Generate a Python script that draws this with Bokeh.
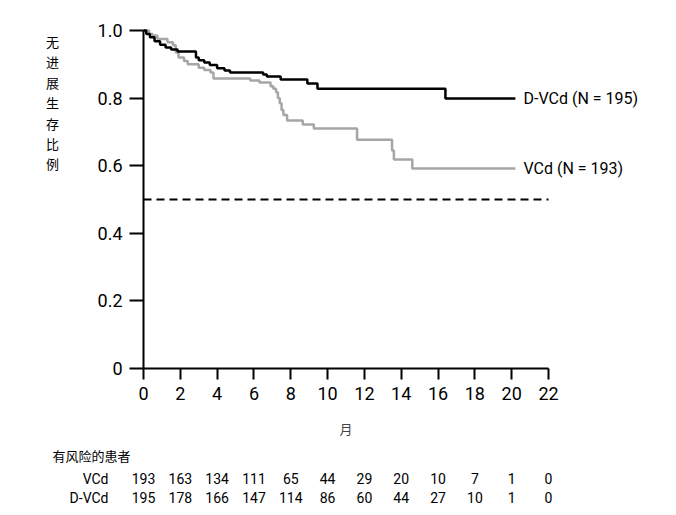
from bokeh.plotting import figure
from bokeh.models import Range1d, FixedTicker, PrintfTickFormatter
from bokeh.core.properties import value
from bokeh.embed import file_html
from bokeh.resources import INLINE

# ---- data ----
months = [0, 2, 4, 6, 8, 10, 12, 14, 16, 18, 20, 22]
vcd_risk = [193, 163, 134, 111, 65, 44, 29, 20, 10, 7, 1, 0]
dvcd_risk = [195, 178, 166, 147, 114, 86, 60, 44, 27, 10, 1, 0]
y_ticks = [0, 0.2, 0.4, 0.6, 0.8, 1.0]

dvcd_t = [0, 0.15, 0.35, 0.6, 0.9, 1.2, 1.5, 1.85, 2.85, 3.0, 3.3, 3.6, 4.0, 4.4, 4.7,
          6.5, 6.7, 7.45, 8.9, 9.45, 16.4, 20.2]
dvcd_s = [1.0, 0.99, 0.98, 0.968, 0.958, 0.95, 0.944, 0.938, 0.92, 0.912, 0.905, 0.898,
          0.888, 0.882, 0.876, 0.87, 0.864, 0.855, 0.843, 0.828, 0.799, 0.799]

vcd_t = [0, 0.3, 0.5, 0.75, 1.3, 1.6, 1.75, 1.9, 2.2, 2.4, 3.0, 3.3, 3.64, 3.8, 5.8, 6.3,
         6.9, 7.05, 7.2, 7.3, 7.4, 7.5, 7.6, 7.8, 8.65, 9.25, 11.6, 13.5, 13.6, 14.6, 20.2]
vcd_s = [1.0, 0.99, 0.985, 0.975, 0.965, 0.956, 0.935, 0.92, 0.91, 0.9, 0.89, 0.883,
         0.876, 0.858, 0.852, 0.846, 0.835, 0.828, 0.817, 0.80, 0.785, 0.765, 0.75, 0.734,
         0.722, 0.71, 0.677, 0.645, 0.618, 0.592, 0.592]

median_level = 0.5
median_x = [0, 22]

series_labels = ["D-VCd (N = 195)", "VCd (N = 193)"]
row_labels = ["VCd", "D-VCd"]
y_label_chars = list("无进展生存比例")
x_label = "月"
risk_header = "有风险的患者"

# ---- layout constants (pixels -> data) ----
W, H = 676, 515
PX_X0, PX_PER_X = 143.0, 18.41     # x=0 at pixel 143
PX_Y0, PX_PER_Y = 368.0, 338.0     # y=0 at pixel 368

def dx(px):
    return (px - PX_X0) / PX_PER_X

def dy(py):
    return (PX_Y0 - py) / PX_PER_Y

LAT = "Roboto"
CJK = "Noto Sans CJK SC"

p = figure(width=W, height=H,
           x_range=Range1d(dx(0), dx(W)), y_range=Range1d(dy(H), dy(0)),
           output_backend="svg", toolbar_location=None, min_border=0)
p.outline_line_color = None
p.grid.visible = False
p.background_fill_color = "white"
p.border_fill_color = "white"

for ax in (p.xaxis[0], p.yaxis[0]):
    ax.fixed_location = 0
    ax.axis_line_width = 2
    ax.axis_line_color = "black"
    ax.major_tick_line_width = 2
    ax.major_tick_line_color = "black"
    ax.major_tick_in = 0
    ax.minor_tick_line_color = None
    ax.major_label_text_font = LAT
    ax.major_label_text_font_size = "18px"
    ax.major_label_text_color = "black"

p.xaxis.major_tick_out = 11
p.yaxis.major_tick_out = 14
p.xaxis.major_label_standoff = 7
p.yaxis.major_label_standoff = 7

p.xaxis.ticker = FixedTicker(ticks=months)
p.xaxis.bounds = (0, 22)
p.xaxis.axis_label = x_label
p.xaxis.axis_label_text_font = CJK
p.xaxis.axis_label_text_font_size = "13px"
p.xaxis.axis_label_text_font_style = "normal"
p.xaxis.axis_label_standoff = 16

p.yaxis.ticker = FixedTicker(ticks=y_ticks)
p.yaxis.formatter = PrintfTickFormatter(format="%.1f")
p.yaxis.major_label_overrides = {0: "0"}
p.yaxis.bounds = (0, 1)

p.segment(x0=[median_x[0]], y0=[median_level], x1=[median_x[1]], y1=[median_level],
          line_color="black", line_width=2, line_dash="8 5")

p.step(vcd_t, vcd_s, mode="after", line_color="#a6a6a6", line_width=2.5)
p.step(dvcd_t, dvcd_s, mode="after", line_color="black", line_width=2.5)

# series labels at the right end of each curve
p.text(x=[dx(523), dx(523)], y=[dvcd_s[-1], vcd_s[-1]], text=series_labels,
       text_font=value(LAT), text_font_size="16px", text_color="black",
       text_baseline="middle", text_align="left")

# vertical y-axis title, one character per line
p.text(x=[dx(52)] * len(y_label_chars),
       y=[dy(41 + 20.4 * i) for i in range(len(y_label_chars))],
       text=y_label_chars, text_font=value(CJK), text_font_size="13px",
       text_color="black", text_baseline="middle", text_align="center")

# at-risk table
p.text(x=[dx(52)], y=[dy(455)], text=[risk_header], text_font=value(CJK),
       text_font_size="13px", text_color="black", text_baseline="middle", text_align="left")

row_y = [dy(478), dy(497)]
p.text(x=[dx(108)] * 2, y=row_y, text=row_labels, text_font=value(LAT),
       text_font_size="14px", text_color="black", text_baseline="middle", text_align="right")
for ry, vals in zip(row_y, [vcd_risk, dvcd_risk]):
    p.text(x=months, y=[ry] * len(months), text=[str(v) for v in vals],
           text_font=value(LAT), text_font_size="14px", text_color="black",
           text_baseline="middle", text_align="center")

open("out.html", "w").write(file_html(p, INLINE))
